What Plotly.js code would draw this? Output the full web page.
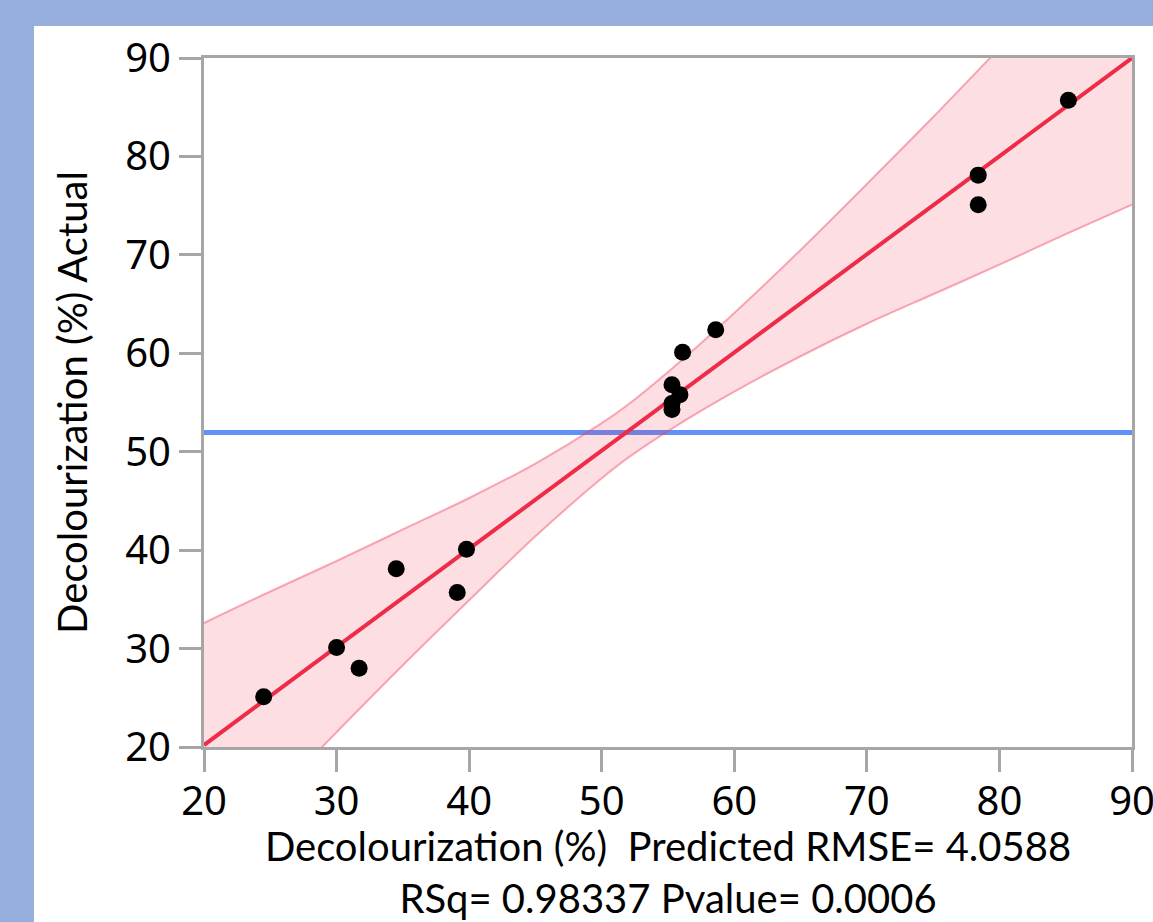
<!DOCTYPE html>
<html>
<head>
<meta charset="utf-8">
<script src="https://cdn.plot.ly/plotly-3.0.1.min.js"></script>
<style>
  html, body { margin: 0; padding: 0; width: 1153px; height: 922px; overflow: hidden; background: #97afdd; }
  #chart { position: absolute; left: 34px; top: 26px; width: 1119px; height: 896px; background: #ffffff; }
</style>
</head>
<body>
<div id="chart"></div>
<script>
// Points: predicted vs actual
const predicted = [24.5, 30.0, 31.7, 34.5, 39.1, 39.8, 55.3, 55.9, 55.3, 55.3, 56.1, 58.6, 78.4, 78.4, 85.2];
const actual    = [25.1, 30.1, 28.0, 38.1, 35.7, 40.1, 56.8, 55.8, 54.9, 54.3, 60.1, 62.4, 78.1, 75.1, 85.7];

// Fit line
const fitX = [20, 90];
const fitY = [20.2, 90.0];

// Mean of actual
const meanX = [20, 90];
const meanY = [51.95, 51.95];

// Confidence band
const bandX  = [20, 25, 30, 35, 40, 45, 50, 52, 55, 60, 65, 70, 75, 80, 85, 90];
const upperY = [32.6, 35.8, 38.9, 42.1, 45.3, 48.8, 52.9, 54.8, 58.1, 64.1, 70.5, 77.2, 84.0, 91.0, 97.9, 104.9];
const lowerY = [7.8, 14.6, 21.5, 28.3, 34.9, 41.4, 47.3, 49.4, 52.1, 56.1, 59.7, 63.0, 66.0, 69.0, 72.1, 75.1];

// Ticks
const xTicks = [20, 30, 40, 50, 60, 70, 80, 90];
const yTicks = [20, 30, 40, 50, 60, 70, 80, 90];

const xTitle = 'Decolourization (%)  Predicted RMSE= 4.0588<br>RSq= 0.98337 Pvalue= 0.0006';
const yTitle = 'Decolourization (%) Actual';

const bandFill = 'rgba(240,60,90,0.17)';
const bandEdge = 'rgba(240,60,90,0.42)';

const traces = [
  { x: meanX, y: meanY, mode: 'lines', line: { color: '#6090f8', width: 5 }, hoverinfo: 'skip' },
  { x: bandX, y: upperY, mode: 'lines', line: { color: bandEdge, width: 2, shape: 'spline' }, hoverinfo: 'skip' },
  { x: bandX, y: lowerY, mode: 'lines', line: { color: bandEdge, width: 2, shape: 'spline' }, fill: 'tonexty', fillcolor: bandFill, hoverinfo: 'skip' },
  { x: fitX, y: fitY, mode: 'lines', line: { color: '#ee2c48', width: 4 }, hoverinfo: 'skip' },
  { x: predicted, y: actual, mode: 'markers', marker: { color: '#000000', size: 17 } }
];

const axisCommon = {
  showgrid: false, zeroline: false,
  showline: true, linecolor: '#a6a6a6', linewidth: 3, mirror: true,
  ticks: 'outside', ticklen: 22, tickwidth: 3, tickcolor: '#a6a6a6',
  ticklabeloverflow: 'allow',
  tickfont: { family: 'Noto Sans, sans-serif', size: 40, color: '#000000' }
};

const layout = {
  width: 1119, height: 896,
  margin: { l: 170, r: 21, t: 32, b: 175 },
  paper_bgcolor: '#ffffff', plot_bgcolor: '#ffffff',
  showlegend: false,
  xaxis: Object.assign({}, axisCommon, {
    range: [20, 90], tickvals: xTicks, ticktext: xTicks.map(String),
    ticklabelstandoff: -5,
    title: { text: xTitle, standoff: 20, font: { family: 'Lato, sans-serif', size: 40, color: '#000000' } }
  }),
  yaxis: Object.assign({}, axisCommon, {
    range: [20, 90], tickvals: yTicks, ticktext: yTicks.map(String),
    title: { text: yTitle, standoff: 26, font: { family: 'Lato, sans-serif', size: 40, color: '#000000' } }
  })
};

Plotly.newPlot('chart', traces, layout, { displayModeBar: false, staticPlot: true });
</script>
</body>
</html>
